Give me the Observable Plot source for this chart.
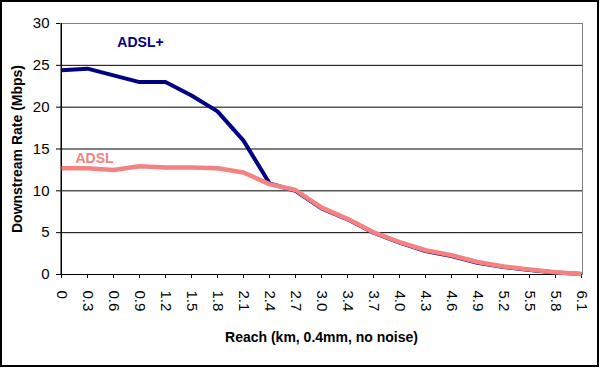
<!DOCTYPE html>
<html>
<head>
<meta charset="utf-8">
<script src="https://cdn.jsdelivr.net/npm/d3@7"></script>
<script src="https://cdn.jsdelivr.net/npm/@observablehq/plot@0.6"></script>
<style>
  html, body { margin: 0; padding: 0; background: #fff; }
  #wrap { position: relative; width: 600px; height: 368px; overflow: hidden; }
  #border { position: absolute; left: 0; top: 0; width: 595px; height: 363px; border: 2px solid #000; pointer-events: none; }
</style>
</head>
<body>
<div id="wrap"><div id="chart"></div><div id="border"></div></div>
<script>
const reach = ["0","0.3","0.6","0.9","1.2","1.5","1.8","2.1","2.4","2.7","3.0","3.4","3.7","4.0","4.3","4.6","4.9","5.2","5.5","5.8","6.1"];
const adslPlus = [24.4, 24.6, 23.8, 23.0, 23.0, 21.4, 19.5, 16.0, 10.9, 10.0, 7.9, 6.6, 5.0, 3.8, 2.8, 2.2, 1.4, 0.9, 0.55, 0.25, 0.05];
const adsl     = [12.7, 12.7, 12.5, 12.95, 12.8, 12.8, 12.7, 12.2, 10.8, 10.1, 8.0, 6.65, 5.05, 3.86, 2.9, 2.3, 1.5, 0.96, 0.6, 0.28, 0.05];
const yTicks = [0, 5, 10, 15, 20, 25, 30];
const seriesNames = ["ADSL+", "ADSL"];

const plusData = reach.map((r, i) => ({reach: r, rate: adslPlus[i]}));
const adslData = reach.map((r, i) => ({reach: r, rate: adsl[i]}));

const font = "'Liberation Sans', Arial, sans-serif";

const chart = Plot.plot({
  width: 600,
  height: 368,
  marginLeft: 60,
  marginRight: 18,
  marginTop: 23,
  marginBottom: 94,
  style: {fontFamily: font, fontSize: "15px", color: "#000", background: "#fff"},
  x: {type: "point", domain: reach, padding: 0},
  y: {domain: [0, 30]},
  marks: [
    Plot.frame({stroke: "#808080"}),
    Plot.ruleY(yTicks.filter(d => d > 0 && d < 30), {stroke: "#000", strokeWidth: 1}),
    Plot.axisY({ticks: yTicks, tickSize: 4, tickPadding: 7, label: null, fontSize: 15}),
    Plot.axisX({tickSize: 4, tickPadding: 12, tickRotate: 90, label: null, fontSize: 15}),
    Plot.ruleY([0], {stroke: "#000"}),
    Plot.ruleX([reach[0]], {stroke: "#000"}),
    Plot.line(plusData, {x: "reach", y: "rate", stroke: "#000080", strokeWidth: 4, strokeLinejoin: "round", strokeLinecap: "butt"}),
    Plot.line(adslData, {x: "reach", y: "rate", stroke: "#f58282", strokeWidth: 4.5, strokeLinejoin: "round", strokeLinecap: "butt"}),
    Plot.text([seriesNames[0]], {x: () => reach[3], y: () => 27.7, text: d => d, fill: "#000080", fontWeight: "bold", fontSize: 14, dx: 1}),
    Plot.text([seriesNames[1]], {x: () => reach[1], y: () => 13.9, text: d => d, fill: "#f58282", fontWeight: "bold", fontSize: 14, dx: 7}),
    Plot.text(["Downstream Rate (Mbps)"], {frameAnchor: "left", textAnchor: "middle", text: d => d, rotate: -90, dx: -43, fontWeight: "bold", fontSize: 14, fill: "#000"}),
    Plot.text(["Reach (km, 0.4mm, no noise)"], {frameAnchor: "bottom", textAnchor: "middle", text: d => d, dy: 67, fontWeight: "bold", fontSize: 14, fill: "#000"})
  ]
});
document.getElementById("chart").appendChild(chart);
</script>
</body>
</html>
